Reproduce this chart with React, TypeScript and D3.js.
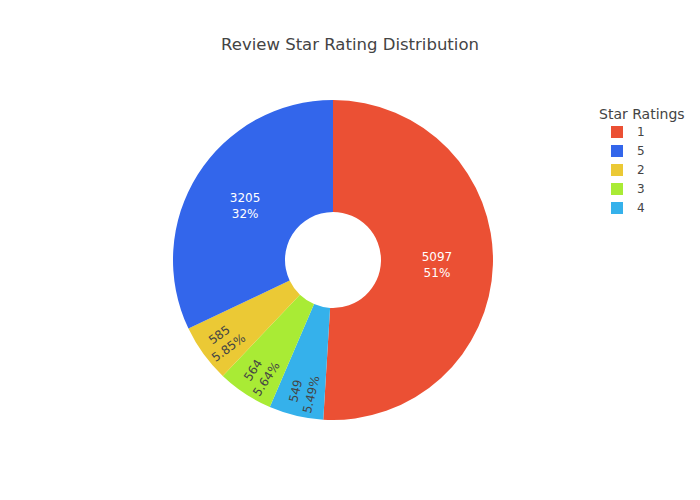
import React from "react";
import * as d3 from "d3";

const labels = ["1", "4", "3", "2", "5"];
const values = [5097, 549, 564, 585, 3205];
const colors = ["#EB5034", "#35B1EB", "#A9EB35", "#EBC935", "#3366EB"];
const legendOrder = ["1", "5", "2", "3", "4"];
const darkText = [true, false, false, false, true];

export default function App() {
  const cx = 333, cy = 260, R = 160, r0 = 48;
  const total = d3.sum(values);
  const arcs = d3.pie<number>().sort(null)(values);
  const arc = d3.arc<d3.PieArcDatum<number>>().innerRadius(r0).outerRadius(R);
  const font = "'DejaVu Sans', sans-serif";
  return (
    <svg width={700} height={500} style={{ position: "absolute", left: 0, top: 0 }} fontFamily={font}>
      <rect width={700} height={500} fill="#fff" />
      <text x={350} y={50} textAnchor="middle" fontSize={16.5} fill="#444">Review Star Rating Distribution</text>
      <g transform={`translate(${cx},${cy})`}>
        {arcs.map((a, i) => (
          <path key={i} d={arc(a) || ""} fill={colors[i]} />
        ))}
        {arcs.map((a, i) => {
          const mid = (a.startAngle + a.endAngle) / 2;
          const big = a.endAngle - a.startAngle > 1;
          const rr = big ? (R + r0) / 2 : 136;
          const x = Math.sin(mid) * rr, y = -Math.cos(mid) * rr;
          const pct = values[i] / total * 100;
          const pctS = pct >= 10 ? `${Math.round(pct)}%` : `${pct.toFixed(2)}%`;
          const rot = big ? 0 : (mid * 180) / Math.PI - 270;
          const fill = darkText[i] ? "#fff" : "#444";
          return (
            <text key={i} transform={`translate(${x},${y}) rotate(${rot})`} textAnchor="middle" fontSize={12} fill={fill}>
              <tspan x={0} dy={-2}>{values[i]}</tspan>
              <tspan x={0} dy={16}>{pctS}</tspan>
            </text>
          );
        })}
      </g>
      <text x={599} y={119} fontSize={14} fill="#444">Star Ratings</text>
      {legendOrder.map((l, j) => {
        const i = labels.indexOf(l);
        const y = 132 + j * 19;
        return (
          <g key={l}>
            <rect x={611} y={y - 6} width={12} height={12} fill={colors[i]} />
            <text x={637} y={y + 4} fontSize={12} fill="#444">{l}</text>
          </g>
        );
      })}
    </svg>
  );
}
